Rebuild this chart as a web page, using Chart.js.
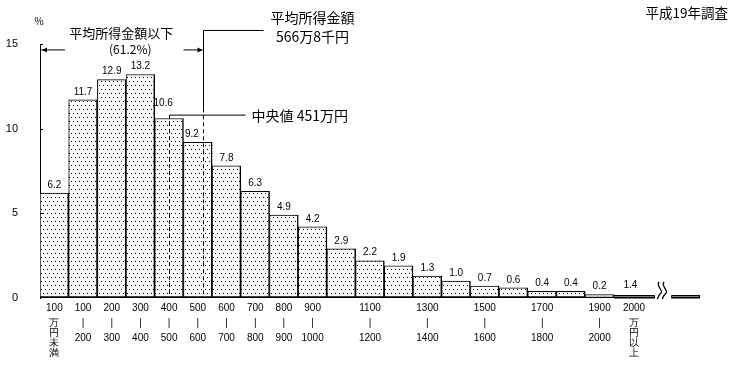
<!DOCTYPE html>
<html>
<head>
<meta charset="utf-8">
<script src="https://cdn.jsdelivr.net/npm/chart.js@4"></script>
<style>
  body { margin: 0; background: #fff; }
  canvas { display: block; }
</style>
</head>
<body>
<canvas id="chart" width="732" height="373"></canvas>
<script>
// income classes (万円), midpoint of each 100万円 bin
const binCenters = [50, 150, 250, 350, 450, 550, 650, 750, 850, 950, 1050, 1150, 1250, 1350, 1450, 1550, 1650, 1750, 1850, 1950];
const shares = [6.2, 11.7, 12.9, 13.2, 10.6, 9.2, 7.8, 6.3, 4.9, 4.2, 2.9, 2.2, 1.9, 1.3, 1.0, 0.7, 0.6, 0.4, 0.4, 0.2];

// open-ended class 2000万円以上, drawn flat across a broken axis
const tailShare = 1.4;
const tailHeight = 0.2;
const tailSegments = [[2000, 2143], [2200, 2300]];

const tickValues = [50, 150, 250, 350, 450, 550, 650, 750, 850, 950, 1150, 1350, 1550, 1750, 1950, 2070];
const tickLabels = [
  ['100', '万', '円', '未', '満'],
  ['100', '|', '200'], ['200', '|', '300'], ['300', '|', '400'], ['400', '|', '500'],
  ['500', '|', '600'], ['600', '|', '700'], ['700', '|', '800'], ['800', '|', '900'],
  ['900', '|', '1000'], ['1100', '|', '1200'], ['1300', '|', '1400'], ['1500', '|', '1600'],
  ['1700', '|', '1800'], ['1900', '|', '2000'],
  ['2000', '万', '円', '以', '上']
];
const yTicks = [0, 5, 10, 15];

const medianIncome = 451;
const meanIncome = 566.8;
const belowMeanShare = 61.2;

const JP = '"Noto Sans CJK JP", sans-serif';
const NUM = '"Liberation Sans", Arial, sans-serif';

// stacked tick labels: blank rows give the uneven spacing of the original
function spaced(lines) {
  if (lines.length === 3) return [lines[0], '', '', lines[1], '', '', lines[2]];
  return [lines[0], '', '', lines[1], '', lines[2], '', lines[3], '', lines[4]];
}

const canvas = document.getElementById('chart');
const tile = document.createElement('canvas');
tile.width = 4; tile.height = 8;
const tctx = tile.getContext('2d');
tctx.fillStyle = '#fff'; tctx.fillRect(0, 0, 4, 8);
tctx.fillStyle = '#000'; tctx.fillRect(1, 1, 1, 1); tctx.fillRect(3, 5, 1, 1);
const dots = canvas.getContext('2d').createPattern(tile, 'repeat');

function arrowHead(ctx, px, py, dir) {
  ctx.beginPath();
  ctx.moveTo(px, py);
  ctx.lineTo(px - dir * 5, py - 2.5);
  ctx.lineTo(px - dir * 5, py + 2.5);
  ctx.closePath();
  ctx.fill();
}

const overlay = {
  id: 'overlay',
  afterDatasetsDraw(chart) {
    const { ctx, scales: { x, y } } = chart;
    ctx.save();
    ctx.strokeStyle = '#000';
    ctx.fillStyle = '#000';

    // inward y ticks
    ctx.lineWidth = 1;
    yTicks.slice(1).forEach(v => {
      const py = Math.round(y.getPixelForValue(v)) + 0.5;
      ctx.beginPath(); ctx.moveTo(x.left, py); ctx.lineTo(x.left + 3, py); ctx.stroke();
    });

    // open-ended class
    const y0 = y.getPixelForValue(0), yt = y.getPixelForValue(tailHeight);
    ctx.lineWidth = 1;
    tailSegments.forEach(([a, b]) => {
      const x0 = x.getPixelForValue(a), x1 = x.getPixelForValue(b);
      ctx.fillStyle = '#fff';
      ctx.fillRect(x0, yt, x1 - x0, y0 - yt);
      ctx.strokeRect(x0 + 0.5, Math.round(yt) + 0.5, x1 - x0 - 1, Math.round(y0 - yt) - 1);
      ctx.beginPath(); ctx.moveTo(x0, y0 - 0.5); ctx.lineTo(x1, y0 - 0.5); ctx.lineWidth = 2; ctx.stroke(); ctx.lineWidth = 1;
    });
    // break mark
    const bx = x.getPixelForValue((tailSegments[0][1] + tailSegments[1][0]) / 2);
    ctx.lineWidth = 1.3;
    [-3, 2].forEach(off => {
      const cx = bx + off;
      ctx.beginPath();
      ctx.moveTo(cx - 1, y0 - 16);
      ctx.bezierCurveTo(cx - 5, y0 - 12, cx + 5, y0 - 7, cx, y0 - 4);
      ctx.bezierCurveTo(cx - 2, y0 - 2, cx - 2, y0, cx - 3, y0 + 1);
      ctx.stroke();
    });

    // value labels
    ctx.fillStyle = '#000';
    ctx.font = '10px ' + NUM;
    ctx.textAlign = 'center';
    ctx.textBaseline = 'middle';
    chart.getDatasetMeta(0).data.forEach((bar, i) => {
      let lx = bar.x, ly = bar.y - 8;
      if (i === 4) { lx -= 6; ly -= 7; }
      if (i === 5) { lx -= 6; }
      ctx.fillText(shares[i].toFixed(1), lx, ly);
    });
    const tx = (x.getPixelForValue(tailSegments[0][0]) + x.getPixelForValue(tailSegments[0][1])) / 2;
    ctx.fillText(tailShare.toFixed(1), tx - 4, yt - 9);

    // median line
    const mx = Math.round(x.getPixelForValue(medianIncome)) + 0.5;
    const medTop = y.getPixelForValue(10.8);
    ctx.lineWidth = 1;
    ctx.setLineDash([4, 3]);
    ctx.beginPath(); ctx.moveTo(mx, medTop); ctx.lineTo(mx, y0); ctx.stroke();
    ctx.setLineDash([]);
    ctx.beginPath(); ctx.moveTo(mx, medTop); ctx.lineTo(mx + 76, medTop); ctx.stroke();
    ctx.font = '14px ' + JP;
    ctx.textAlign = 'left';
    ctx.fillText('中央値 ' + medianIncome + '万円', mx + 82, medTop + 1);

    // mean line
    const ax = Math.round(x.getPixelForValue(meanIncome)) + 0.5;
    const meanTop = y.getPixelForValue(15.8);
    const meanSolidEnd = y.getPixelForValue(11.2);
    ctx.beginPath(); ctx.moveTo(ax, meanTop); ctx.lineTo(ax, meanSolidEnd); ctx.stroke();
    ctx.setLineDash([4, 3]);
    ctx.beginPath(); ctx.moveTo(ax, meanSolidEnd); ctx.lineTo(ax, y0); ctx.stroke();
    ctx.setLineDash([]);
    ctx.beginPath(); ctx.moveTo(ax, meanTop); ctx.lineTo(ax + 60, meanTop); ctx.stroke();
    ctx.textAlign = 'center';
    ctx.fillText('平均所得金額', ax + 109, meanTop - 13);
    ctx.fillText('566万8千円', ax + 109, meanTop + 6);

    // bracket for share below mean
    const arrowY = y.getPixelForValue(14.65);
    const lx0 = x.left + 1;
    ctx.beginPath(); ctx.moveTo(lx0, arrowY); ctx.lineTo(lx0 + 24, arrowY); ctx.stroke();
    arrowHead(ctx, lx0 + 1, arrowY, -1);
    ctx.beginPath(); ctx.moveTo(ax - 20, arrowY); ctx.lineTo(ax - 1, arrowY); ctx.stroke();
    arrowHead(ctx, ax - 1, arrowY, 1);
    ctx.font = '13px ' + JP;
    ctx.fillText('平均所得金額以下', (lx0 + ax) / 2 - 1, arrowY - 17);
    ctx.font = '12px ' + JP;
    ctx.fillText('(' + belowMeanShare.toFixed(1) + '%)', (lx0 + ax) / 2 + 8, arrowY);

    // corner notes
    ctx.font = '10px ' + JP;
    ctx.fillText('%', x.left - 1, 21);
    ctx.font = '13.5px ' + JP;
    ctx.textAlign = 'right';
    ctx.fillText('平成19年調査', 728, 13);
    ctx.restore();
  }
};

new Chart(canvas, {
  type: 'bar',
  data: {
    datasets: [{
      data: binCenters.map((c, i) => ({ x: c, y: shares[i] })),
      backgroundColor: dots,
      borderColor: '#000',
      borderWidth: { top: 1, left: 1, right: 1.5, bottom: 2 },
      borderSkipped: false,
      barPercentage: 1,
      categoryPercentage: 1
    }]
  },
  options: {
    responsive: false,
    animation: false,
    devicePixelRatio: 1,
    layout: { padding: { top: 44, right: 32, left: 0, bottom: 0 } },
    plugins: { legend: { display: false }, tooltip: { enabled: false } },
    scales: {
      x: {
        type: 'linear', min: 0, max: 2300, offset: false,
        grid: { display: false, drawTicks: false },
        border: { display: false },
        afterBuildTicks: s => { s.ticks = tickValues.map(v => ({ value: v })); },
        afterFit: s => { s.height = 75; },
        ticks: {
          autoSkip: false, maxRotation: 0, minRotation: 0, padding: 8, color: '#000',
          font: { family: NUM, size: 10, lineHeight: '5px' },
          callback: (v, i) => spaced(tickLabels[i])
        }
      },
      y: {
        min: 0, max: 15,
        grid: { display: false, drawTicks: false },
        border: { display: true, color: '#000', width: 1 },
        afterBuildTicks: s => { s.ticks = yTicks.map(v => ({ value: v })); },
        afterFit: s => { s.width = 40; },
        ticks: { padding: 22, color: '#000', font: { family: NUM, size: 11 } }
      }
    }
  },
  plugins: [overlay]
});
</script>
</body>
</html>
